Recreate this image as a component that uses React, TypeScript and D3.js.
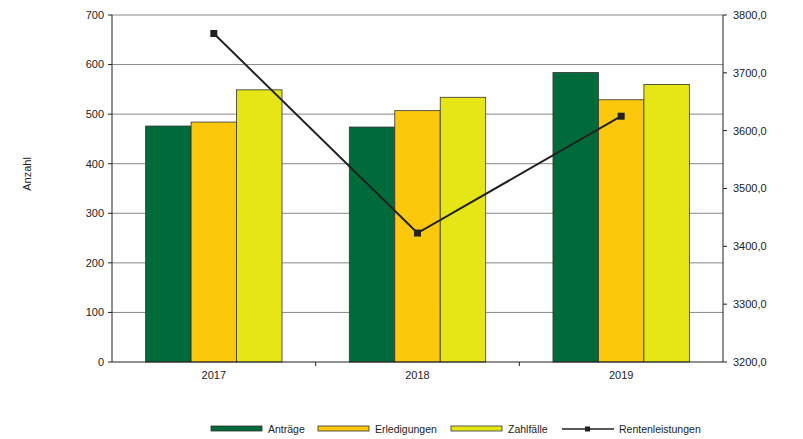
import React from "react";
import * as d3 from "d3";

const years = ["2017", "2018", "2019"];
const seriesNames = ["Anträge", "Erledigungen", "Zahlfälle"];
const antraege = [476, 474, 584];
const erledigungen = [484, 507, 529];
const zahlfaelle = [549, 534, 560];
const rentenleistungen = [3768, 3423, 3625];
const leftTicks = [0, 100, 200, 300, 400, 500, 600, 700];
const rightTicks = [3200, 3300, 3400, 3500, 3600, 3700, 3800];
const colors = ["#006B3A", "#FCC80C", "#E6E617"];

const W = 803, H = 439;
const m = { left: 112, right: 80, top: 15, bottom: 77 };

export default function App() {
  const x0 = m.left, x1 = W - m.right;
  const yTop = m.top, yBot = H - m.bottom;
  const xBand = d3.scaleBand<string>().domain(years).range([x0, x1]).paddingInner(0).paddingOuter(0);
  const xSub = d3.scaleBand<string>().domain(seriesNames).range([0, xBand.bandwidth()]).paddingOuter(0.74).paddingInner(0);
  const yL = d3.scaleLinear().domain([0, 700]).range([yBot, yTop]);
  const yR = d3.scaleLinear().domain([3200, 3800]).range([yBot, yTop]);
  const data = [antraege, erledigungen, zahlfaelle];
  const fmtR = (v: number) => d3.format(".1f")(v).replace(".", ",");
  const line = d3.line<number>().x((_, i) => (xBand(years[i]) as number) + xBand.bandwidth() / 2).y((v) => yR(v));
  const font = "'Liberation Sans', Arial, sans-serif";
  const legendItems = [
    { name: seriesNames[0], x: 211, type: "bar", color: colors[0] },
    { name: seriesNames[1], x: 318, type: "bar", color: colors[1] },
    { name: seriesNames[2], x: 451, type: "bar", color: colors[2] },
    { name: "Rentenleistungen", x: 562, type: "line", color: "#222" },
  ];
  const ly = 429;
  return (
    <svg width={W} height={H} style={{ position: "absolute", left: 0, top: 0, fontFamily: font }}>
      <rect width={W} height={H} fill="#fff" />
      {leftTicks.slice(1).map((t) => (
        <line key={t} x1={x0} x2={x1} y1={yL(t)} y2={yL(t)} stroke="#888" strokeWidth={1} />
      ))}
      {data.map((arr, si) =>
        arr.map((v, i) => (
          <rect key={si + "-" + i}
            x={(xBand(years[i]) as number) + (xSub(seriesNames[si]) as number)}
            y={yL(v)} width={xSub.bandwidth()} height={yBot - yL(v)}
            fill={colors[si]} stroke="#333" strokeWidth={0.8} />
        ))
      )}
      <line x1={x0} x2={x0} y1={yTop} y2={yBot} stroke="#222" />
      <line x1={x1} x2={x1} y1={yTop} y2={yBot} stroke="#222" />
      <line x1={x0} x2={x1} y1={yBot} y2={yBot} stroke="#222" />
      {leftTicks.map((t) => (
        <g key={t}>
          <line x1={x0 - 4} x2={x0} y1={yL(t)} y2={yL(t)} stroke="#222" />
          <text x={x0 - 8} y={yL(t)} dy="0.35em" textAnchor="end" fontSize={11} fill="#222">{t}</text>
        </g>
      ))}
      {rightTicks.map((t) => (
        <g key={t}>
          <line x1={x1} x2={x1 + 4} y1={yR(t)} y2={yR(t)} stroke="#222" />
          <text x={x1 + 10} y={yR(t)} dy="0.35em" textAnchor="start" fontSize={11} fill="#222">{fmtR(t)}</text>
        </g>
      ))}
      {years.map((yv, i) => (
        <g key={yv}>
          {i > 0 && <line x1={xBand(yv)} x2={xBand(yv)} y1={yBot} y2={yBot + 4} stroke="#222" />}
          <text x={(xBand(yv) as number) + xBand.bandwidth() / 2} y={yBot + 17} textAnchor="middle" fontSize={11} fill="#222">{yv}</text>
        </g>
      ))}
      <text transform={`translate(31,174) rotate(-90)`} textAnchor="middle" fontSize={11} fill="#222">Anzahl</text>
      <path d={line(rentenleistungen) || ""} fill="none" stroke="#222" strokeWidth={2} />
      {rentenleistungen.map((v, i) => (
        <rect key={i} x={(xBand(years[i]) as number) + xBand.bandwidth() / 2 - 3.5} y={yR(v) - 3.5} width={7} height={7} fill="#222" />
      ))}
      {legendItems.map((it) => (
        <g key={it.name}>
          {it.type === "bar" ? (
            <rect x={it.x} y={ly - 3} width={51} height={5} fill={it.color} stroke="#333" strokeWidth={0.8} />
          ) : (
            <g>
              <line x1={it.x} x2={it.x + 52} y1={ly} y2={ly} stroke="#222" strokeWidth={1.5} />
              <rect x={it.x + 23} y={ly - 2.5} width={5} height={5} fill="#222" />
            </g>
          )}
          <text x={it.x + 57} y={ly} dy="0.35em" fontSize={10.5} fill="#222">{it.name}</text>
        </g>
      ))}
    </svg>
  );
}
